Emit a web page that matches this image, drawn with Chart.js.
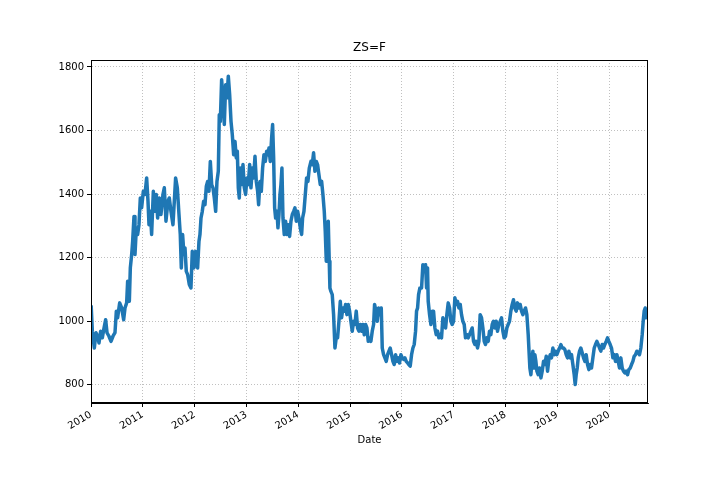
<!DOCTYPE html>
<html>
<head>
<meta charset="utf-8">
<script src="https://cdn.jsdelivr.net/npm/chart.js@4/dist/chart.umd.min.js"></script>
<style>
  body { margin: 0; background: #fff; }
  #wrap { width: 720px; height: 504px; }
</style>
</head>
<body>
<div id="wrap"><canvas id="zsChart" width="720" height="504"></canvas></div>
<script>
// dates as decimal years
const dates = [
  2010.003, 2010.026, 2010.064, 2010.096, 2010.129, 2010.154, 2010.186, 2010.219, 2010.251, 2010.283,
  2010.309, 2010.347, 2010.386, 2010.424, 2010.463, 2010.489, 2010.514, 2010.553, 2010.592, 2010.630,
  2010.656, 2010.688, 2010.707, 2010.740, 2010.759, 2010.785, 2010.804, 2010.830, 2010.849, 2010.875,
  2010.900, 2010.926, 2010.952, 2010.977, 2011.010, 2011.042, 2011.074, 2011.100, 2011.119, 2011.145,
  2011.170, 2011.203, 2011.235, 2011.260, 2011.286, 2011.318, 2011.350, 2011.389, 2011.415, 2011.447,
  2011.486, 2011.511, 2011.543, 2011.582, 2011.608, 2011.633, 2011.666, 2011.698, 2011.723, 2011.743,
  2011.768, 2011.794, 2011.814, 2011.839, 2011.865, 2011.897, 2011.929, 2011.955, 2011.987, 2012.019,
  2012.058, 2012.084, 2012.103,
  2012.123, 2012.148, 2012.174, 2012.200, 2012.226, 2012.251, 2012.277, 2012.303, 2012.329, 2012.354,
  2012.380, 2012.406, 2012.431, 2012.457, 2012.476, 2012.496, 2012.521, 2012.547, 2012.573, 2012.599,
  2012.624, 2012.650, 2012.676, 2012.702, 2012.727, 2012.753, 2012.779, 2012.804, 2012.824, 2012.843,
  2012.862, 2012.882, 2012.907, 2012.933, 2012.959, 2012.984, 2013.010, 2013.036, 2013.062, 2013.087,
  2013.113, 2013.139, 2013.165, 2013.190, 2013.216, 2013.235, 2013.261, 2013.287, 2013.312, 2013.338,
  2013.364, 2013.390, 2013.415, 2013.435, 2013.460, 2013.486, 2013.505, 2013.525, 2013.544, 2013.563,
  2013.589, 2013.608, 2013.628, 2013.647, 2013.666, 2013.685, 2013.705, 2013.730, 2013.756, 2013.782,
  2013.808, 2013.833, 2013.859, 2013.885, 2013.911, 2013.936, 2013.962, 2013.988, 2014.013, 2014.039,
  2014.065, 2014.084, 2014.110, 2014.136, 2014.161, 2014.187, 2014.213,
  2014.245, 2014.270, 2014.296, 2014.322, 2014.348, 2014.373, 2014.399, 2014.425, 2014.451, 2014.476,
  2014.502, 2014.521, 2014.541, 2014.560, 2014.579, 2014.598, 2014.611, 2014.631, 2014.656, 2014.682,
  2014.708, 2014.733, 2014.759, 2014.785, 2014.811, 2014.836, 2014.862, 2014.888, 2014.914, 2014.939,
  2014.965, 2014.991, 2015.016, 2015.042, 2015.068, 2015.094, 2015.119, 2015.145, 2015.171, 2015.197,
  2015.222, 2015.248, 2015.274, 2015.299, 2015.325, 2015.351, 2015.377, 2015.402, 2015.428, 2015.454,
  2015.473, 2015.499, 2015.525, 2015.550, 2015.576, 2015.602, 2015.621, 2015.647, 2015.672, 2015.698,
  2015.724, 2015.750, 2015.775, 2015.801, 2015.827, 2015.852, 2015.878, 2015.904, 2015.930, 2015.955,
  2015.981, 2016.007, 2016.033, 2016.058, 2016.084, 2016.110, 2016.135, 2016.161, 2016.187, 2016.213,
  2016.238, 2016.264, 2016.283, 2016.303, 2016.322, 2016.348,
  2016.380, 2016.405, 2016.431, 2016.457, 2016.476, 2016.495, 2016.508, 2016.534, 2016.560, 2016.585,
  2016.611, 2016.637, 2016.663, 2016.688, 2016.714, 2016.740, 2016.765, 2016.791, 2016.817, 2016.843,
  2016.868, 2016.894, 2016.920, 2016.946, 2016.971, 2016.997, 2017.023, 2017.048, 2017.074, 2017.100,
  2017.126, 2017.151, 2017.177, 2017.203, 2017.228, 2017.254, 2017.280, 2017.306, 2017.331, 2017.357,
  2017.383, 2017.409, 2017.434, 2017.460, 2017.486, 2017.511, 2017.537, 2017.563, 2017.589, 2017.614,
  2017.640, 2017.666, 2017.691, 2017.717, 2017.743, 2017.769, 2017.794, 2017.820, 2017.846, 2017.872,
  2017.897, 2017.923, 2017.949, 2017.974, 2018.000, 2018.026, 2018.052, 2018.077, 2018.103, 2018.129,
  2018.154, 2018.180, 2018.206, 2018.232, 2018.257, 2018.283, 2018.309, 2018.335, 2018.360, 2018.386,
  2018.412, 2018.438, 2018.457, 2018.470,
  2018.490, 2018.509, 2018.528, 2018.548, 2018.567, 2018.586, 2018.606, 2018.631, 2018.657, 2018.683,
  2018.708, 2018.734, 2018.760, 2018.786, 2018.811, 2018.837, 2018.863, 2018.888, 2018.914, 2018.940,
  2018.966, 2018.991, 2019.017, 2019.043, 2019.069, 2019.094, 2019.120, 2019.146, 2019.171, 2019.197,
  2019.223, 2019.249, 2019.274, 2019.300, 2019.326, 2019.345, 2019.364, 2019.384, 2019.403, 2019.429,
  2019.454, 2019.480, 2019.506, 2019.532, 2019.557, 2019.583, 2019.609, 2019.634, 2019.660, 2019.686,
  2019.712, 2019.737, 2019.763, 2019.789, 2019.814, 2019.840, 2019.866, 2019.892, 2019.917, 2019.943,
  2019.969, 2019.994, 2020.020, 2020.046, 2020.072, 2020.097, 2020.123, 2020.149, 2020.175, 2020.200,
  2020.226, 2020.252, 2020.277, 2020.303, 2020.329, 2020.355, 2020.380, 2020.406, 2020.432, 2020.458,
  2020.483, 2020.509, 2020.535, 2020.561, 2020.586, 2020.612, 2020.638, 2020.657, 2020.676, 2020.696,
  2020.715, 2020.734
];

const prices = [
  1050, 969, 916, 964, 953, 932, 969, 948, 979, 1005,
  964, 953, 937, 953, 964, 1032, 1011, 1058, 1042, 1005,
  1042, 1058, 1126, 1063, 1168, 1210, 1252, 1330, 1210, 1294,
  1273, 1304, 1388, 1357, 1409, 1399, 1451, 1378, 1304, 1346,
  1273, 1409, 1346, 1399, 1325, 1388, 1336, 1399, 1420, 1315,
  1378, 1388, 1346, 1304, 1378, 1451, 1420, 1336, 1273, 1168,
  1273, 1210, 1231, 1157, 1147, 1116, 1105, 1220, 1168, 1220,
  1168, 1252, 1273,
  1325, 1346, 1378, 1367, 1425, 1440, 1409, 1503, 1430, 1420,
  1388, 1346, 1440, 1472, 1650, 1629, 1760, 1703, 1619, 1744,
  1703, 1771, 1713, 1629, 1587, 1524, 1566, 1514, 1535, 1420,
  1388, 1482, 1430, 1493, 1420, 1399, 1451, 1430, 1493, 1420,
  1482, 1451, 1519, 1440, 1409, 1367, 1440, 1409, 1482, 1524,
  1503, 1535, 1524, 1545, 1503, 1577, 1619, 1514, 1357, 1325,
  1346, 1294, 1336, 1399, 1430, 1482, 1325, 1273, 1315, 1273,
  1304, 1267, 1315, 1336, 1346, 1357, 1315, 1346, 1325, 1294,
  1273, 1325, 1346, 1399, 1451, 1440, 1482,
  1503, 1493, 1530, 1472, 1503, 1493, 1461, 1430, 1440, 1399,
  1346, 1283, 1189, 1252, 1315, 1189, 1105, 1094, 1084, 1021,
  916, 948, 948, 1000, 1063, 1011, 1042, 1032, 1053, 1021,
  1053, 1032, 1000, 969, 1000, 990, 1032, 979, 969, 990,
  969, 990, 958, 990, 979, 937, 948, 937, 969, 990,
  1053, 1032, 1000, 1042, 1021, 1042, 916, 895, 885, 874,
  895, 906, 916, 895, 874, 864, 895, 874, 885, 869,
  895, 885, 880, 885, 874, 869, 864, 859, 895, 916,
  927, 969, 1032, 1042, 1084, 1105,
  1105, 1178, 1168, 1178, 1105, 1168, 1063, 1021, 990, 1032,
  1032, 979, 958, 969, 948, 958, 948, 1011, 1000, 979,
  1021, 1058, 1042, 1000, 990, 1000, 1074, 1053, 1063, 1042,
  1053, 1021, 1000, 990, 948, 958, 948, 958, 969, 979,
  937, 927, 937, 916, 937, 1021, 1011, 979, 937, 927,
  948, 937, 969, 958, 990, 1000, 979, 1000, 969, 990,
  1000, 1011, 969, 948, 953, 979, 990, 1000, 1032, 1053,
  1068, 1042, 1032, 1058, 1042, 1053, 1032, 1021, 1032, 1042,
  1021, 958, 895, 853,
  832, 874, 906, 853, 895, 874, 843, 832, 853, 822,
  843, 874, 864, 890, 843, 880, 895, 885, 916, 895,
  906, 895, 906, 916, 927, 916, 916, 911, 895, 885,
  906, 885, 895, 864, 832, 801, 832, 853, 885, 906,
  916, 901, 885, 874, 895, 864, 848, 864, 853, 885,
  916, 927, 937, 927, 916, 906, 927, 916, 927, 937,
  948, 937, 927, 916, 885, 895, 874, 895, 874, 853,
  885, 853, 843, 838, 843, 832, 848, 853, 864, 874,
  890, 895, 906, 901, 895, 916, 958, 1000, 1032, 1042,
  1011, 1032
];

const yearTicks = [2010, 2011, 2012, 2013, 2014, 2015, 2016, 2017, 2018, 2019, 2020];
const priceTicks = [800, 1000, 1200, 1400, 1600, 1800];

const points = dates.map((d, i) => ({ x: d, y: prices[i] }));

// moldura completa em volta da área do gráfico
const framePlugin = {
    id: 'frame',
    afterDatasetsDraw(chart) {
        const { ctx, chartArea: a } = chart;
        ctx.save();
        ctx.strokeStyle = '#000';
        ctx.lineWidth = 1;
        ctx.strokeRect(a.left + 0.5, a.top + 0.5, a.right - a.left - 1, a.bottom - a.top - 1);
        ctx.restore();
    }
};

Chart.defaults.font.family = '"DejaVu Sans", sans-serif';
Chart.defaults.font.size = 10;
Chart.defaults.color = '#000';

const ctx = document.getElementById('zsChart').getContext('2d');
const zsChart = new Chart(ctx, {
    type: 'line',
    data: {
        datasets: [{
            label: 'ZS=F',
            data: points,
            borderColor: '#1f77b4',
            borderWidth: 3.5,
            borderJoinStyle: 'round',
            pointRadius: 0,
            tension: 0,
            fill: false
        }]
    },
    options: {
        responsive: false,
        animation: false,
        devicePixelRatio: 1,
        layout: { padding: { left: 0, right: 72, top: 0, bottom: 0 } },
        plugins: {
            legend: { display: false },
            tooltip: { enabled: false },
            title: {
                display: true,
                text: 'ZS=F',
                fullSize: false,
                font: { size: 12, weight: 'normal' },
                color: '#000',
                padding: { top: 41, bottom: 4.6 }
            }
        },
        scales: {
            x: {
                type: 'linear',
                min: 2010,
                max: 2020.75,
                afterBuildTicks: s => { s.ticks = yearTicks.map(v => ({ value: v })); },
                afterFit: s => { s.height = 101; },
                ticks: {
                    autoSkip: false,
                    minRotation: 30,
                    maxRotation: 30,
                    padding: 2,
                    callback: v => String(v)
                },
                grid: {
                    color: '#b0b0b0',
                    lineWidth: 0.8,
                    tickColor: '#000',
                    tickLength: 4,
                    tickWidth: 1
                },
                border: { display: true, color: '#000', width: 1, dash: [1, 2] },
                title: {
                    display: true,
                    text: 'Date',
                    font: { size: 10 },
                    color: '#000',
                    padding: { top: 4, bottom: 58 }
                }
            },
            y: {
                min: 743,
                max: 1822,
                afterBuildTicks: s => { s.ticks = priceTicks.map(v => ({ value: v })); },
                afterFit: s => { s.width = 91; },
                ticks: {
                    padding: 3,
                    callback: v => String(v)
                },
                grid: {
                    color: '#b0b0b0',
                    lineWidth: 0.8,
                    tickColor: '#000',
                    tickLength: 4,
                    tickWidth: 1
                },
                border: { display: true, color: '#000', width: 1, dash: [1, 2] }
            }
        }
    },
    plugins: [framePlugin]
});
</script>
</body>
</html>
